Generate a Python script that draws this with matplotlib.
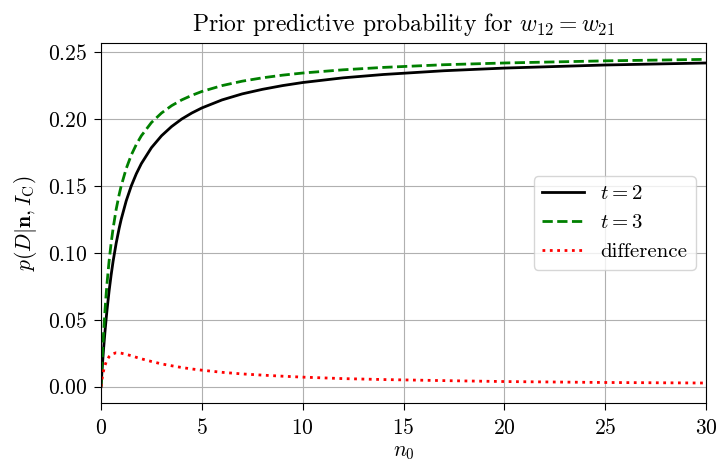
import matplotlib
matplotlib.use("Agg")
import matplotlib.pyplot as plt

plt.rcParams['font.family'] = 'serif'
plt.rcParams['font.serif'] = ['cmr10']
plt.rcParams['mathtext.fontset'] = 'cm'
plt.rcParams['axes.formatter.use_mathtext'] = True
plt.rcParams['axes.unicode_minus'] = False
plt.rcParams['font.size'] = 15
plt.rcParams['xtick.major.size'] = 5
plt.rcParams['ytick.major.size'] = 5
plt.rcParams['xtick.major.pad'] = 6
plt.rcParams['ytick.major.pad'] = 5
plt.rcParams['xtick.labelsize'] = 15.5
plt.rcParams['ytick.labelsize'] = 15.5

n0 = [0, 0.025, 0.05, 0.075, 0.1, 0.125, 0.15, 0.2, 0.25, 0.3, 0.4, 0.5, 0.6, 0.75,
      0.9, 1, 1.25, 1.5, 1.75, 2, 2.5, 3, 3.5, 4, 4.5, 5, 6, 7, 8, 9, 10, 12, 14,
      17, 20, 25, 30]
p_t2 = [0, 0.0061, 0.0119, 0.0174, 0.0227, 0.0278, 0.0326, 0.0417, 0.05, 0.0577,
        0.0714, 0.0833, 0.0938, 0.1071, 0.1184, 0.125, 0.1389, 0.15, 0.1591,
        0.1667, 0.1786, 0.1875, 0.1944, 0.2, 0.2045, 0.2083, 0.2143, 0.2188,
        0.2222, 0.225, 0.2273, 0.2308, 0.2333, 0.2361, 0.2381, 0.2404, 0.2419]
p_t3 = [0, 0.0090, 0.0174, 0.0253, 0.0326, 0.0395, 0.0459, 0.0577, 0.0682, 0.0776,
        0.0938, 0.1071, 0.1184, 0.1324, 0.1436, 0.15, 0.163, 0.1731, 0.181,
        0.1875, 0.1974, 0.2045, 0.21, 0.2143, 0.2177, 0.2206, 0.225, 0.2283,
        0.2308, 0.2328, 0.2344, 0.2368, 0.2386, 0.2406, 0.2419, 0.2435, 0.2446]
p_diff = [0, 0.0029, 0.0055, 0.0078, 0.0099, 0.0117, 0.0133, 0.016, 0.0182, 0.0199,
          0.0224, 0.0238, 0.0246, 0.0253, 0.0252, 0.025, 0.0241, 0.0231, 0.0219,
          0.0208, 0.0188, 0.017, 0.0156, 0.0143, 0.0132, 0.0123, 0.0107, 0.0095,
          0.0086, 0.0078, 0.0071, 0.006, 0.0053, 0.0045, 0.0038, 0.0031, 0.0027]

fig = plt.figure(figsize=(7.19, 4.66), dpi=100)
ax = fig.add_axes([0.1405, 0.1352, 0.8415, 0.7725])
ax.plot(n0, p_t2, color='black', lw=2, ls='-', label=r'$t=2$')
ax.plot(n0, p_t3, color='green', lw=2, ls='--', label=r'$t=3$')
ax.plot(n0, p_diff, color='red', lw=2, ls=':', label='difference')
ax.set_xlim(0, 30)
ax.grid(True)
ax.set_xlabel(r'$n_0$', fontsize=15.5, labelpad=3)
ax.set_ylabel(r'$p(D|\mathbf{n}, I_\mathrm{C})$', fontsize=15.5, labelpad=6)
ax.set_title(r'Prior predictive probability for $w_{12} = w_{21}$', fontsize=17, pad=9)
ax.legend(loc='center right', fontsize=15)
fig.savefig('out.png', dpi=100)
